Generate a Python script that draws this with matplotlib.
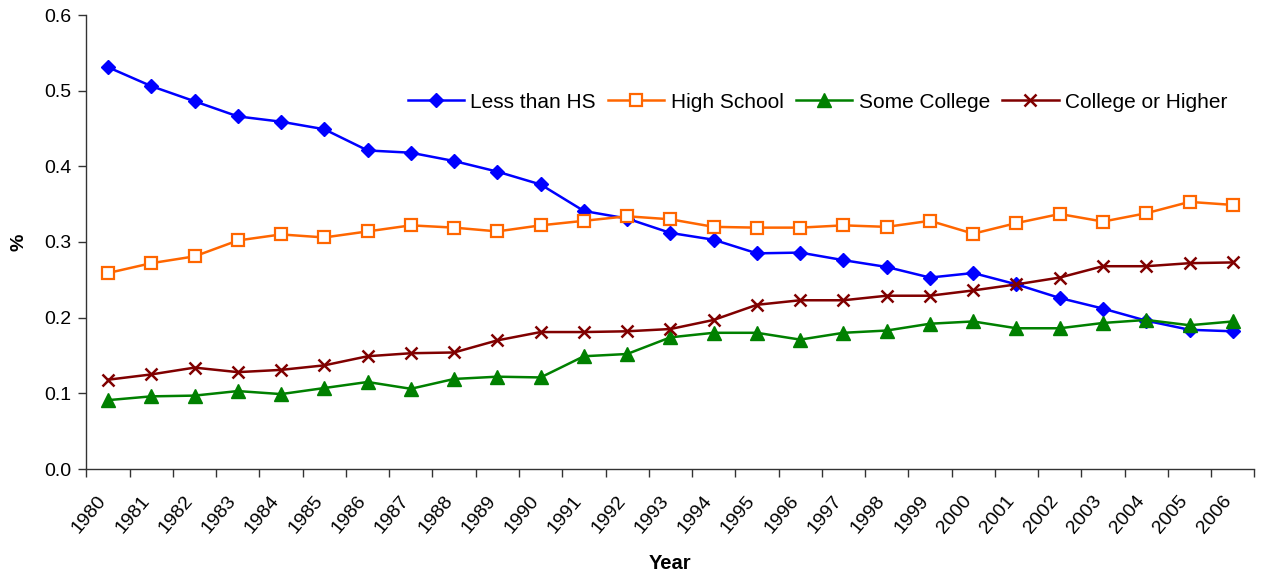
import numpy as np
import matplotlib
matplotlib.use("Agg")
import matplotlib.pyplot as plt
from matplotlib.transforms import ScaledTranslation

plt.rcParams['font.family'] = ['Liberation Sans', 'DejaVu Sans']

years = [str(y) for y in range(1980, 2007)]

less_than_hs = [0.531, 0.506, 0.486, 0.466, 0.459, 0.449, 0.421, 0.418, 0.407, 0.393,
                0.376, 0.341, 0.331, 0.312, 0.303, 0.285, 0.286, 0.276, 0.267, 0.253,
                0.259, 0.244, 0.226, 0.212, 0.196, 0.184, 0.182]
high_school = [0.259, 0.272, 0.281, 0.302, 0.310, 0.306, 0.314, 0.322, 0.319, 0.314,
               0.322, 0.328, 0.334, 0.330, 0.320, 0.319, 0.319, 0.322, 0.320, 0.328,
               0.311, 0.325, 0.337, 0.327, 0.338, 0.353, 0.349]
some_college = [0.091, 0.096, 0.097, 0.103, 0.099, 0.107, 0.115, 0.106, 0.119, 0.122,
                0.121, 0.149, 0.152, 0.174, 0.180, 0.180, 0.171, 0.180, 0.183, 0.192,
                0.195, 0.186, 0.186, 0.193, 0.197, 0.190, 0.195]
college_plus = [0.118, 0.125, 0.134, 0.128, 0.131, 0.137, 0.149, 0.153, 0.154, 0.170,
                0.181, 0.181, 0.182, 0.185, 0.197, 0.217, 0.223, 0.223, 0.229, 0.229,
                0.236, 0.244, 0.253, 0.268, 0.268, 0.272, 0.273]

fig = plt.figure(figsize=(12.63, 5.77), dpi=100)
ax = fig.add_axes([86.4 / 1263, 1 - 469 / 577, 1168 / 1263, 454 / 577])

x = np.arange(len(years))
ax.plot(x, less_than_hs, color='#0000FF', lw=1.8, marker='D', ms=6.8, label='Less than HS')
ax.plot(x, high_school, color='#FF6600', lw=1.8, marker='s', ms=8.5, mfc='white',
        mec='#FF6600', mew=1.6, label='High School')
ax.plot(x, some_college, color='#008000', lw=1.8, marker='^', ms=9.5, label='Some College')
ax.plot(x, college_plus, color='#800000', lw=1.8, marker='x', ms=9, mew=1.8,
        label='College or Higher')

ax.set_xlim(-0.5, len(years) - 0.5)
ax.set_ylim(0, 0.6)
ax.set_yticks(np.arange(0, 0.61, 0.1))
ax.set_yticklabels([f"{v:.1f}" for v in np.arange(0, 0.61, 0.1)], fontsize=14)

# tick marks sit between categories, labels at the category centres
ax.set_xticks(np.arange(-0.5, len(years), 1.0))
ax.set_xticklabels([])
ax.set_xticks(x, minor=True)
ax.set_xticklabels(years, minor=True, rotation=50, ha='right', va='top',
                   rotation_mode='anchor', fontsize=14)
ax.tick_params(axis='x', which='minor', length=0, pad=17)
ax.tick_params(axis='x', which='major', length=6, width=1, color='#333333')
ax.tick_params(axis='y', length=6, width=1, color='#333333', pad=5)
shift = ScaledTranslation(-8 / 72, 0, fig.dpi_scale_trans)
for lbl in ax.get_xticklabels(minor=True):
    lbl.set_transform(lbl.get_transform() + shift)

for side in ('top', 'right'):
    ax.spines[side].set_visible(False)
for side in ('left', 'bottom'):
    ax.spines[side].set_color('#333333')
    ax.spines[side].set_linewidth(1)

ax.set_xlabel('Year', fontsize=14.5, fontweight='bold', labelpad=12)
ax.set_ylabel('%', fontsize=14, fontweight='bold', labelpad=12)

ax.legend(loc='center left', bbox_to_anchor=(0.275, 0.808), ncol=4, frameon=False,
          fontsize=15, handlelength=2.7, columnspacing=0.6, handletextpad=0.3,
          borderaxespad=0, borderpad=0)

fig.savefig('out.png', dpi=100)
